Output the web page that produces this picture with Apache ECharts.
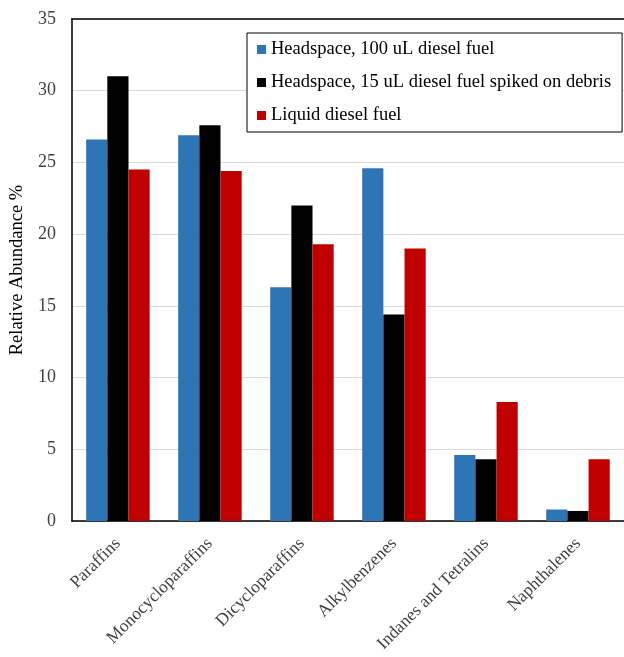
<!DOCTYPE html>
<html>
<head>
<meta charset="utf-8">
<style>
  html, body { margin: 0; padding: 0; background: #fff; }
  #chart { width: 624px; height: 657px; }
</style>
<script src="https://cdn.jsdelivr.net/npm/echarts@6/dist/echarts.min.js"></script>
</head>
<body>
<div id="chart"></div>
<script>
// Hydrocarbon class composition (%), three sample types
const categories = ['Paraffins', 'Monocycloparaffins', 'Dicycloparaffins', 'Alkylbenzenes', 'Indanes and Tetralins', 'Naphthalenes'];
const headspace100 = [26.6, 26.9, 16.3, 24.6, 4.6, 0.8];
const headspace15Debris = [31.0, 27.6, 22.0, 14.4, 4.3, 0.7];
const liquidDiesel = [24.5, 24.4, 19.3, 19.0, 8.3, 4.3];
const seriesNames = ['Headspace, 100 uL diesel fuel', 'Headspace, 15 uL diesel fuel spiked on debris', 'Liquid diesel fuel'];
const yTicks = { min: 0, max: 35, interval: 5 };

const FONT = '"Liberation Serif", "Times New Roman", serif';
const colors = ['#2E75B6', '#000000', '#C00000'];
const values = [headspace100, headspace15Debris, liquidDiesel];

const chart = echarts.init(document.getElementById('chart'), null, { renderer: 'canvas' });

chart.setOption({
  animation: false,
  backgroundColor: '#fff',
  textStyle: { fontFamily: FONT },
  grid: { left: 71, right: 0, top: 19, bottom: 136, containLabel: false },
  legend: {
    orient: 'vertical',
    left: 247,
    top: 33,
    padding: [7, 11, 7, 10],
    itemGap: 14,
    itemWidth: 9,
    itemHeight: 9,
    icon: 'rect',
    borderColor: '#000',
    borderWidth: 1,
    backgroundColor: '#fff',
    textStyle: { fontFamily: FONT, fontSize: 18.5, color: '#000', lineHeight: 18 },
    data: seriesNames
  },
  xAxis: [
    {
      type: 'category',
      data: categories,
      axisLine: { show: true, lineStyle: { color: '#000', width: 1.5 } },
      axisTick: { show: false },
      axisLabel: {
        interval: 0,
        rotate: 45,
        margin: 20,
        fontFamily: FONT,
        fontSize: 17.5,
        color: '#404040'
      },
      splitLine: { show: false }
    },
    {
      // top border of the plot area
      type: 'category',
      data: categories,
      position: 'top',
      axisLine: { show: true, lineStyle: { color: '#000', width: 1.5 } },
      axisTick: { show: false },
      axisLabel: { show: false },
      splitLine: { show: false }
    }
  ],
  yAxis: {
    type: 'value',
    min: yTicks.min,
    max: yTicks.max,
    interval: yTicks.interval,
    name: 'Relative Abundance %',
    nameLocation: 'middle',
    nameGap: 42,
    nameTextStyle: { fontFamily: FONT, fontSize: 18.5, color: '#000' },
    axisLine: { show: true, lineStyle: { color: '#000', width: 1.5 } },
    axisTick: { show: false },
    axisLabel: { margin: 16, fontFamily: FONT, fontSize: 18, color: '#404040' },
    splitLine: { show: true, lineStyle: { color: '#D9D9D9', width: 1 } }
  },
  series: seriesNames.map((name, i) => ({
    name,
    type: 'bar',
    data: values[i],
    barGap: '0%',
    barCategoryGap: '31%',
    itemStyle: { color: colors[i] }
  }))
});
</script>
</body>
</html>
